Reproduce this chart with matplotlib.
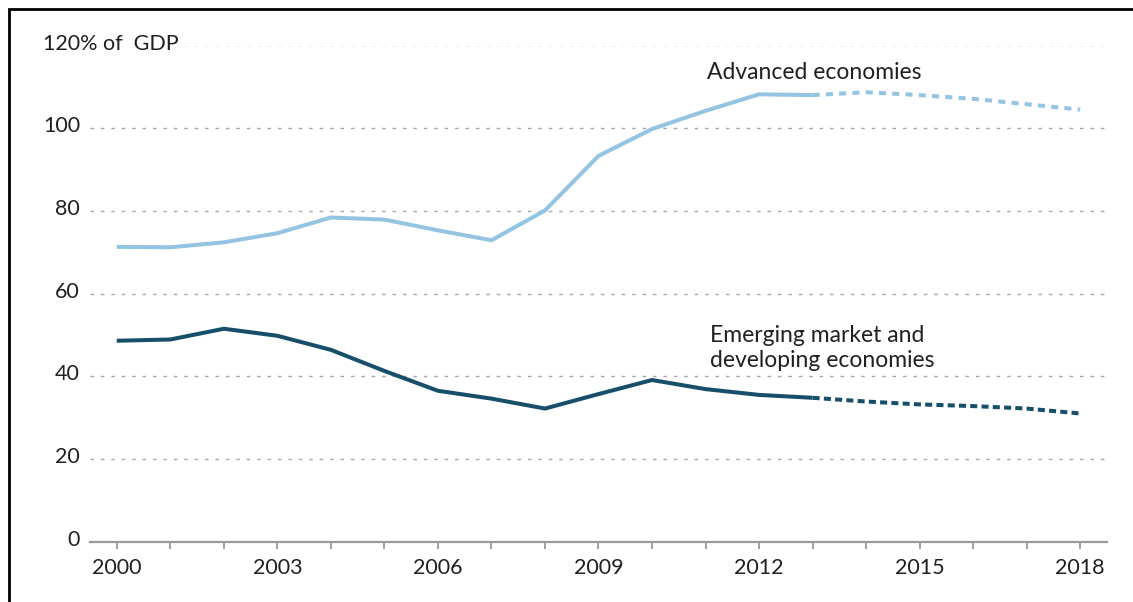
import matplotlib
matplotlib.use("Agg")
import matplotlib.pyplot as plt
from matplotlib.transforms import blended_transform_factory, offset_copy
from matplotlib.lines import Line2D

# ---------------- data ----------------
years = list(range(2000, 2019))
advanced = [71.3, 71.2, 72.4, 74.6, 78.4, 77.9, 75.3, 72.9, 80.1, 93.3,
            99.8, 104.2, 108.2, 108.0, 108.7, 108.0, 107.1, 105.8, 104.5]
emerging = [48.6, 48.9, 51.5, 49.8, 46.4, 41.3, 36.5, 34.6, 32.2, 35.7,
            39.1, 36.9, 35.5, 34.8, 33.9, 33.2, 32.8, 32.2, 31.0]
last_actual_year = 2013
y_ticks = [0, 20, 40, 60, 80, 100]
y_top_label = "120% of  GDP"
x_label_years = [2000, 2003, 2006, 2009, 2012, 2015, 2018]
label_adv = "Advanced economies"
label_em = ["Emerging market and", "developing economies"]

# ---------------- style ----------------
FONT = ["Lato", "DejaVu Sans"]
plt.rcParams["font.family"] = FONT
TXT = "#231f20"
C_ADV = "#93c4e2"
C_EM = "#174f6b"
GRID = "#a6a6a6"
AXC = "#9a9a9a"
FS_TICK = 15.5
FS_LAB = 16.5

W, H = 1133, 602
fig = plt.figure(figsize=(W / 100, H / 100), dpi=100)
ax = fig.add_axes([90 / W, (H - 541.7) / H, (1107 - 90) / W, (541.7 - 45.5) / H])
ax.set_xlim(1999.5, 2018.5)
ax.set_ylim(0, 120)

# split actual / projection
ia = years.index(last_actual_year)
lw = 2.9
ax.plot(years[:ia + 1], advanced[:ia + 1], color=C_ADV, lw=lw,
        solid_capstyle="butt", solid_joinstyle="round", clip_on=False, zorder=3)
ax.plot(years[ia:], advanced[ia:], color=C_ADV, lw=lw, dashes=(1.75, 1.55),
        dash_capstyle="butt", clip_on=False, zorder=3)
ax.plot(years[:ia + 1], emerging[:ia + 1], color=C_EM, lw=lw,
        solid_capstyle="butt", solid_joinstyle="round", clip_on=False, zorder=3)
ax.plot(years[ia:], emerging[ia:], color=C_EM, lw=lw, dashes=(1.75, 1.05),
        dash_capstyle="butt", clip_on=False, zorder=3)

# spines / ticks
for s in ["top", "right", "left"]:
    ax.spines[s].set_visible(False)
ax.spines["bottom"].set_color(AXC)
ax.spines["bottom"].set_linewidth(1.6)
ax.spines["bottom"].set_zorder(4)
ax.set_xticks(years)
ax.set_xticklabels([str(y) if y in x_label_years else "" for y in years],
                   fontsize=FS_TICK, color=TXT)
ax.tick_params(axis="x", direction="out", length=4.8, width=1.3, color=AXC, pad=7)
ax.set_yticks([])

# y labels and gridlines
fig.canvas.draw()
r = fig.canvas.get_renderer()
tr = blended_transform_factory(ax.transAxes, ax.transData)
tr_lab = offset_copy(tr, fig=fig, x=-10, y=-4, units="dots")
lefts = []
for v in y_ticks:
    t = ax.text(0, v, str(v), transform=tr_lab, ha="right", va="baseline",
                fontsize=FS_TICK, color=TXT)
    if v == 100:
        lefts.append(t)
    if v > 0:
        ax.axhline(v, color=GRID, lw=1.0, dashes=(2.5, 5.0), zorder=1)
fig.canvas.draw()
bb100 = lefts[0].get_window_extent(r)
tr_top = offset_copy(ax.transData, fig=fig, x=0, y=-4, units="dots")
x_left_data = ax.transData.inverted().transform((bb100.x0, 0))[0]
ttop = ax.text(x_left_data, 120, y_top_label, transform=tr_top, ha="left",
               va="baseline", fontsize=FS_TICK, color=TXT)
fig.canvas.draw()
bbt = ttop.get_window_extent(r)
gx0 = ax.transAxes.inverted().transform((bbt.x1 + 6, 0))[0]
ax.axhline(120, xmin=gx0, xmax=1, color=GRID, lw=1.0, dashes=(2.5, 5.0), zorder=1)

# series labels
ax.text(2011.03, 111.8, label_adv, fontsize=FS_LAB, color=TXT, ha="left", va="baseline")
ax.text(2011.08, 48.2, label_em[0], fontsize=FS_LAB, color=TXT, ha="left", va="baseline")
ax.text(2011.08, 42.3, label_em[1], fontsize=FS_LAB, color=TXT, ha="left", va="baseline")

# outer frame (left & top)
fx = 8.5 / W
fy = 1 - 8.5 / H
fig.add_artist(Line2D([fx, fx, 1.0], [0.0, fy, fy], transform=fig.transFigure,
                      color="black", lw=2.0, solid_joinstyle="miter"))

fig.savefig("out.png", dpi=100, facecolor="white")
